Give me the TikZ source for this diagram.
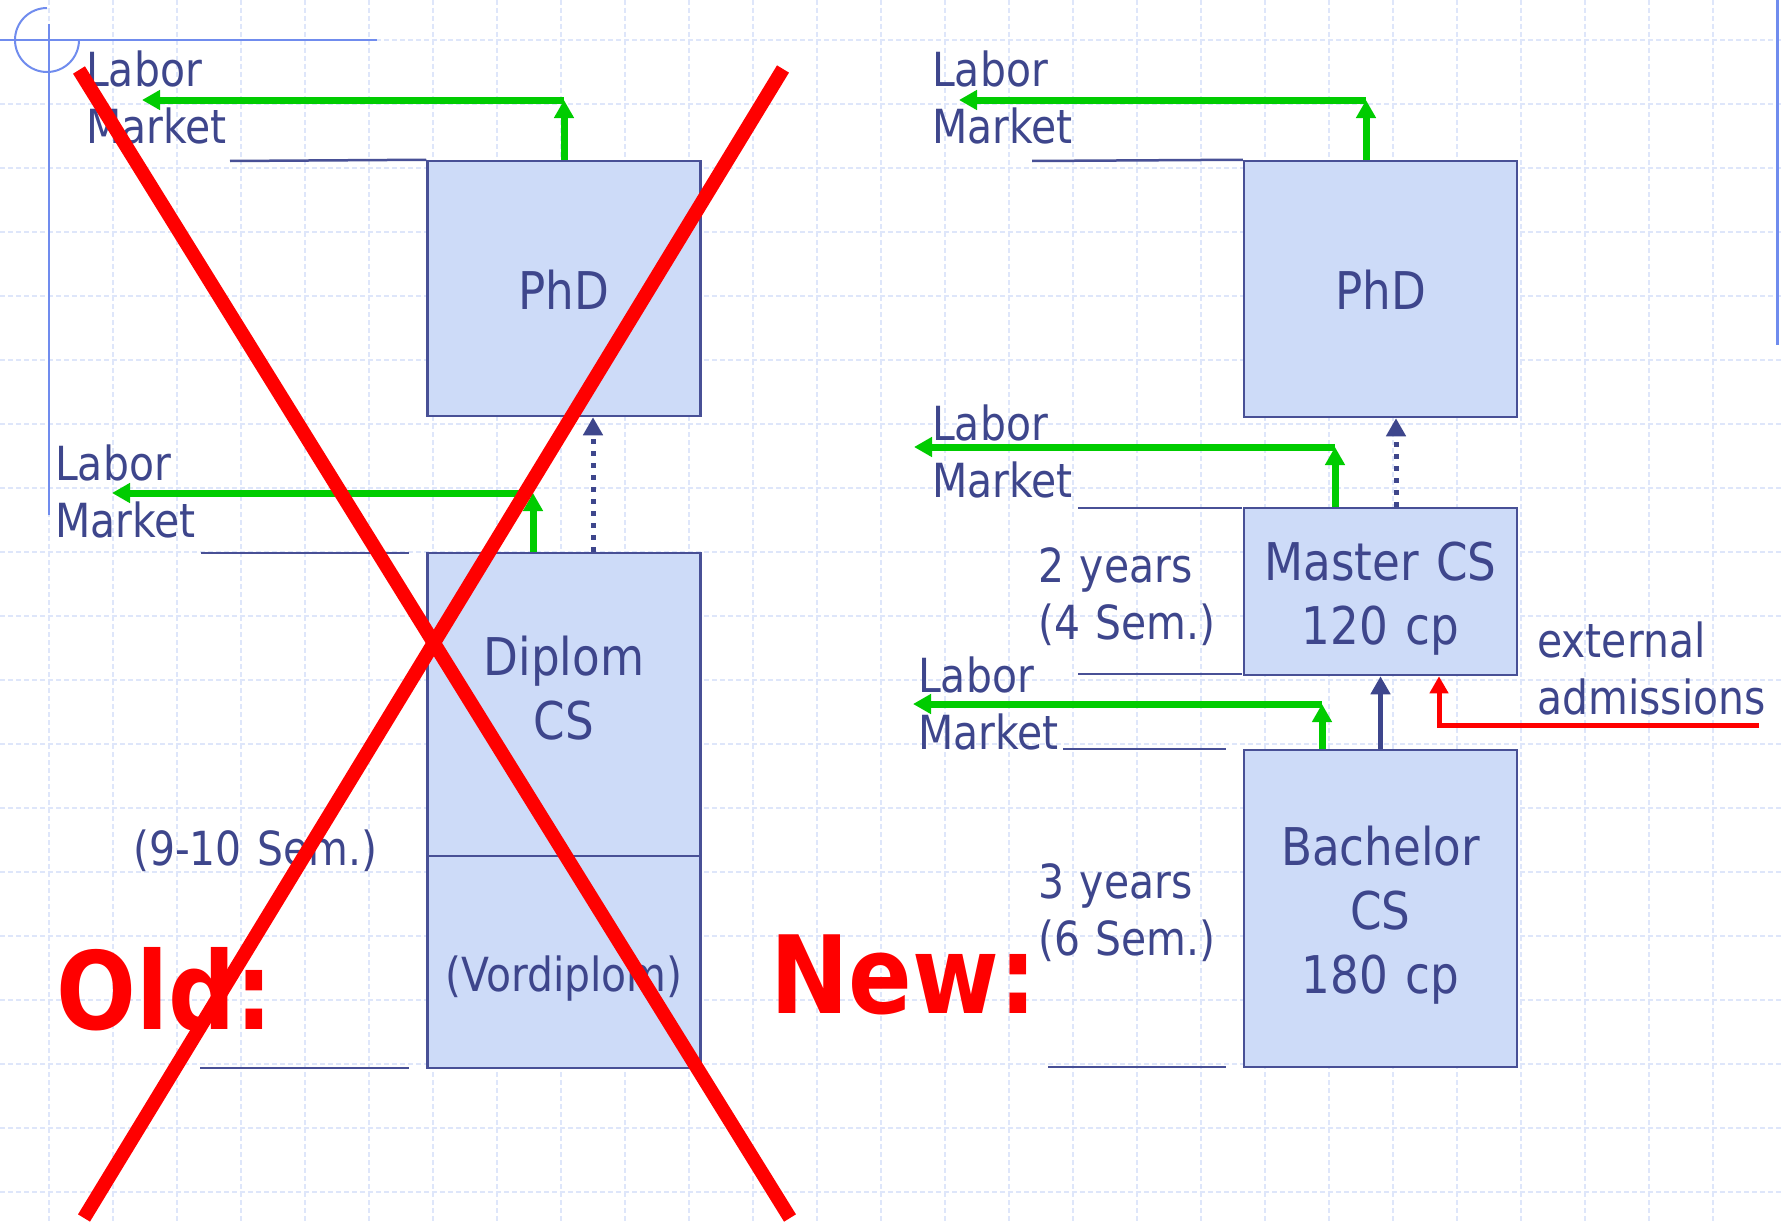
\documentclass[tikz,border=0pt]{standalone}
\usepackage{fontspec}
\setmainfont{DejaVu Sans}[FakeStretch=0.87]
\usetikzlibrary{arrows.meta,calc}

\definecolor{txtblue}{RGB}{62,70,140}
\definecolor{boxline}{RGB}{72,80,150}
\definecolor{boxfill}{RGB}{205,219,248}
\definecolor{gridblue}{RGB}{222,230,250}
\definecolor{decoblue}{RGB}{112,140,238}
\definecolor{mkgreen}{RGB}{0,204,0}
\definecolor{xred}{RGB}{255,0,0}

\begin{document}
\begin{tikzpicture}[
  x=1pt, y=-1pt,
  gridln/.style={gridblue, line width=1.3pt, dash pattern=on 5pt off 3pt},
  deco/.style={decoblue, line width=2pt},
  box/.style={draw=boxline, fill=boxfill, line width=2.5pt, inner sep=0pt, minimum width=273pt},
  boxtxt/.style={txtblue, font=\fontsize{52}{64}\selectfont, text width=273pt, align=center, inner sep=0pt, anchor=base},
  lab/.style={txtblue, font=\fontsize{47}{57}\selectfont, text width=260pt, align=left, inner sep=0pt, anchor=base west},
  tick/.style={boxline, line width=2.5pt},
  big/.style={xred, font=\fontsize{108}{108}\selectfont\bfseries, inner sep=0pt, anchor=base west},
  mktarr/.style={mkgreen, line width=7pt, -{Triangle[length=18pt,width=19pt]}},
  nxt/.style={txtblue, line width=5pt, -{Triangle[length=18pt,width=19pt]}},
  opt/.style={nxt, dash pattern=on 5pt off 7pt},
  ext/.style={xred, line width=5pt, -{Triangle[length=17pt,width=18pt]}},
  cross/.style={xred, line width=14pt}
]
\fill[white] (0,0) rectangle (1781,1223);
\useasboundingbox (0,0) rectangle (1781,1223);

% slide grid
\foreach \gx in {0,...,26} \draw[gridln] ({49+64*\gx},0) -- ({49+64*\gx},1223);
\foreach \gy in {0,...,18} \draw[gridln] (0,{40+64*\gy}) -- (1781,{40+64*\gy});

% slide decoration
\draw[deco] (0,40) -- (377,40);
\draw[deco] (49,24) -- (49,515);
\draw[deco] (47,8) arc[start angle=270, end angle=0, radius=32];
\draw[deco, line width=3pt] (1777,0) -- (1777,345);

% old system
\node[box, minimum height=255pt] (ophd) at (564,288.5) {};
\node[box, minimum height=303pt] (odip) at (564,704.5) {};
\node[box, minimum height=212pt] (ovor) at (564,962) {};
\node[boxtxt] (ophdT) at (564,309) {PhD};
\node[boxtxt] (odipT) at (564,675) {Diplom\\CS};
\node[boxtxt, font=\fontsize{47}{57}\selectfont] (ovorT) at (564,991) {(Vordiplom)};

\node[lab] (olmA) at (86,87) {Labor\\Market};
\node[lab] (olmB) at (55,480) {Labor\\Market};
\node[lab] (osem) at (133,865) {(9-10 Sem.)};

\draw[tick] (230,161) -- (ophd.north west);
\draw[tick] (201,553) -- (409,553);
\draw[tick] (200,1068) -- (409,1068);

\coordinate (oupA) at (564,100);
\coordinate (oendA) at (142,100);
\draw[mktarr] (oupA) -- (oendA);
\draw[mktarr] (ophd.north) -- (oupA);
\coordinate (oupB) at (533,493);
\coordinate (oendB) at (112,493);
\draw[mktarr] (oupB) -- (oendB);
\draw[mktarr] (odip.north -| oupB) -- (oupB);
\coordinate (odot) at (593,0);
\draw[opt] (odip.north -| odot) -- (ophd.south -| odot);

% new system
\node[box, minimum height=256pt] (nphd) at (1380.5,289) {};
\node[box, minimum height=167pt] (nmas) at (1380.5,591.5) {};
\node[box, minimum height=317pt] (nbac) at (1380.5,908.5) {};
\node[boxtxt] (nphdT) at (1380.5,309) {PhD};
\node[boxtxt] (nmasT) at (1380.5,580) {Master CS\\120 cp};
\node[boxtxt] (nbacT) at (1380.5,865) {Bachelor\\CS\\180 cp};

\node[lab] (nlmA) at (932,87) {Labor\\Market};
\node[lab] (nlmB) at (932,440) {Labor\\Market};
\node[lab] (nlmC) at (918,692) {Labor\\Market};
\node[lab] (nyrM) at (1038,582) {2 years\\(4 Sem.)};
\node[lab] (nyrB) at (1038,898) {3 years\\(6 Sem.)};
\node[lab] (nadm) at (1537,657) {external\\admissions};

\draw[tick] (1032,161) -- (nphd.north west);
\draw[tick] (1078,508) -- (1242,508);
\draw[tick] (1078,674) -- (1242,674);
\draw[tick] (1063,749) -- (1226,749);
\draw[tick] (1048,1067) -- (1226,1067);

\coordinate (nupA) at (1366,100);
\coordinate (nendA) at (959,100);
\draw[mktarr] (nupA) -- (nendA);
\draw[mktarr] (nphd.north -| nupA) -- (nupA);
\coordinate (nupB) at (1335,447);
\coordinate (nendB) at (914,447);
\draw[mktarr] (nupB) -- (nendB);
\draw[mktarr] (nmas.north -| nupB) -- (nupB);
\coordinate (nupC) at (1322,704);
\coordinate (nendC) at (913,704);
\draw[mktarr] (nupC) -- (nendC);
\draw[mktarr] (nbac.north -| nupC) -- (nupC);
\coordinate (ndot) at (1396,0);
\draw[opt] (nmas.north -| ndot) -- (nphd.south -| ndot);
\draw[nxt] (nbac.north) -- (nmas.south);
\coordinate (adm) at (1759,725);
\coordinate (admx) at (1439,0);
\draw[ext] (adm) -| (nmas.south -| admx);

% headings and strike-out
\node[big] (old) at (56,1029) {Old:};
\node[big] (new) at (770,1013) {New:};
\draw[cross] (79,70) -- (790,1218);
\draw[cross] (84,1218) -- (783,69);
\end{tikzpicture}
\end{document}
